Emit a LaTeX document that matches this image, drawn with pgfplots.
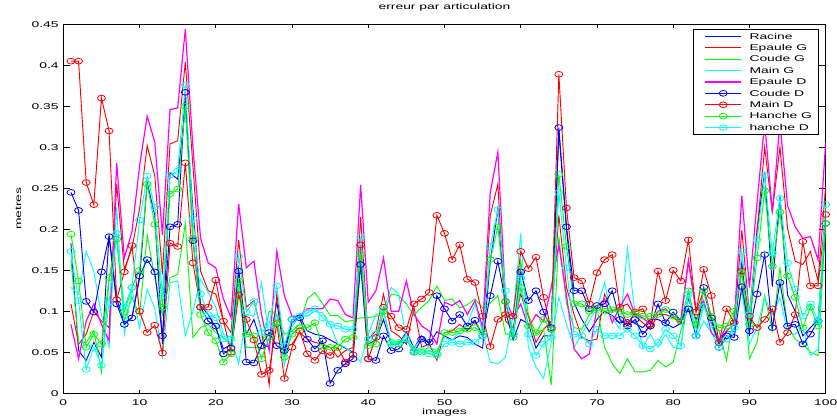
\documentclass[border=0pt]{standalone}
\usepackage{pgfplots}
\usepackage{pgfplotstable}
\pgfplotsset{compat=1.18}
\usepackage{fontspec}
\setmainfont{Liberation Sans}[FakeStretch=1.65]
\definecolor{mblue}{RGB}{0,0,255}
\definecolor{mred}{RGB}{255,0,0}
\definecolor{mgreen}{RGB}{0,255,0}
\definecolor{mcyan}{RGB}{0,255,255}
\definecolor{mmag}{RGB}{255,0,255}

\pgfplotstableread{
x R EG CG MG ED CD MD HG HD
1 .183 .109 .163 .129 .084 .245 .405 .194 .173
2 .052 .06 .062 .121 .042 .223 .405 .137 .113
3 .04 .072 .062 .173 .088 .112 .257 .056 .029
4 .062 .1 .076 .149 .109 .099 .23 .072 .056
5 .044 .088 .026 .096 .084 .148 .36 .06 .034
6 .193 .08 .137 .056 .064 .191 .32 .141 .111
7 .115 .255 .191 .227 .281 .109 .114 .188 .195
8 .086 .151 .088 .072 .165 .084 .148 .099 .105
9 .092 .177 .117 .127 .197 .092 .18 .129 .129
10 .14 .225 .096 .08 .277 .143 .10 .15 .211
11 .257 .302 .193 .127 .338 .163 .074 .255 .265
12 .217 .265 .141 .103 .306 .148 .083 .206 .227
13 .06 .145 .096 .044 .193 .07 .049 .105 .119
14 .269 .304 .141 .135 .346 .203 .183 .243 .266
15 .261 .308 .145 .137 .348 .206 .179 .249 .271
16 .35 .404 .207 .07 .444 .367 .281 .35 .376
17 .225 .277 .068 .1 .3 .186 .159 .189 .213
18 .107 .149 .08 .139 .189 .105 .105 .096 .121
19 .096 .125 .084 .123 .159 .088 .105 .074 .096
20 .08 .121 .074 .105 .153 .082 .138 .064 .092
21 .054 .088 .068 .072 .115 .048 .088 .038 .066
22 .06 .074 .058 .068 .092 .055 .05 .048 .066
23 .151 .187 .125 .036 .231 .149 .12 .137 .167
24 .072 .105 .056 .096 .153 .038 .09 .072 .099
25 .09 .113 .056 .094 .161 .037 .065 .07 .112
26 .06 .076 .056 .135 .096 .058 .023 .042 .074
27 .056 .01 .1 .068 .052 .074 .028 .068 .084
28 .112 .121 .096 .096 .173 .058 .085 .086 .131
29 .048 .056 .072 .034 .119 .052 .018 .044 .058
30 .086 .06 .076 .082 .094 .09 .056 .072 .09
31 .094 .074 .084 .094 .094 .092 .076 .08 .094
32 .076 .066 .115 .094 .103 .066 .048 .08 .098
33 .072 .062 .123 .1 .103 .054 .04 .086 .103
34 .07 .06 .109 .098 .103 .064 .052 .056 .092
35 .065 .056 .095 .084 .115 .012 .046 .056 .084
36 .06 .044 .095 .06 .113 .028 .056 .056 .082
37 .055 .052 .087 .056 .096 .036 .038 .066 .078
38 .05 .056 .089 .048 .092 .042 .047 .068 .078
39 .161 .215 .092 .038 .254 .157 .181 .169 .191
40 .06 .066 .092 .072 .111 .042 .042 .058 .066
41 .065 .076 .094 .096 .125 .04 .068 .06 .072
42 .09 .121 .096 .1 .165 .07 .105 .1 .103
43 .06 .076 .121 .129 .1 .052 .094 .062 .06
44 .06 .07 .119 .121 .1 .054 .08 .06 .062
45 .075 .06 .109 .064 .137 .066 .078 .066 .066
46 .055 .105 .095 .056 .096 .05 .109 .052 .05
47 .07 .056 .105 .066 .082 .066 .115 .05 .052
48 .06 .06 .113 .056 .076 .062 .123 .052 .048
49 .075 .04 .131 .052 .06 .119 .217 .048 .046
50 .07 .074 .113 .068 .111 .103 .195 .074 .06
51 .065 .076 .115 .064 .107 .088 .163 .074 .062
52 .07 .084 .104 .076 .113 .096 .181 .076 .06
53 .068 .076 .108 .084 .096 .082 .139 .078 .062
54 .06 .088 .115 .109 .113 .089 .135 .08 .062
55 .055 .07 .104 .074 .08 .07 .094 .074 .07
56 .16 .217 .11 .038 .245 .119 .057 .163 .179
57 .225 .255 .119 .036 .294 .161 .09 .203 .224
58 .1 .088 .072 .044 .115 .112 .096 .112 .125
59 .065 .08 .072 .096 .092 .072 .094 .068 .072
60 .09 .121 .161 .195 .109 .148 .173 .129 .14
61 .085 .094 .096 .056 .08 .113 .152 .082 .072
62 .055 .062 .072 .032 .096 .125 .166 .074 .046
63 .07 .078 .078 .018 .088 .099 .117 .09 .06
64 .07 .088 .01 .062 .129 .08 .078 .078 .068
65 .32 .217 .191 .117 .181 .324 .389 .267 .245
66 .2 .129 .109 .084 .119 .203 .226 .179 .153
67 .11 .096 .08 .056 .054 .125 .141 .109 .072
68 .09 .068 .078 .072 .042 .125 .137 .109 .07
69 .075 .064 .096 .088 .048 .103 .109 .1 .06
70 .09 .066 .104 .104 .105 .107 .147 .104 .078
71 .1 .121 .056 .135 .115 .109 .163 .1 .07
72 .095 .1 .036 .092 .086 .125 .169 .102 .07
73 .085 .105 .024 .078 .105 .09 .105 .1 .07
74 .09 .109 .042 .177 .121 .082 .084 .096 .078
75 .085 .094 .026 .096 .096 .09 .099 .098 .07
76 .08 .086 .026 .056 .092 .072 .103 .094 .058
77 .09 .078 .028 .072 .084 .082 .084 .094 .054
78 .09 .096 .04 .056 .1 .109 .149 .096 .062
79 .085 .096 .032 .072 .103 .086 .113 .102 .078
80 .08 .092 .038 .056 .094 .099 .15 .094 .07
81 .085 .086 .076 .054 .09 .088 .137 .088 .058
82 .115 .163 .105 .125 .161 .103 .187 .125 .121
83 .09 .1 .08 .068 .1 .07 .099 .084 .07
84 .11 .125 .109 .088 .113 .129 .151 .125 .106
85 .085 .088 .088 .074 .074 .092 .119 .094 .084
86 .06 .064 .076 .056 .064 .056 .062 .08 .056
87 .075 .076 .04 .066 .082 .07 .103 .082 .066
88 .075 .084 .1 .074 .086 .068 .086 .1 .08
89 .16 .199 .151 .125 .241 .13 .149 .147 .173
90 .07 .096 .042 .06 .129 .076 .094 .084 .096
91 .2 .197 .062 .08 .233 .121 .08 .165 .187
92 .27 .3 .119 .117 .33 .169 .09 .247 .266
93 .13 .221 .076 .096 .221 .08 .103 .155 .171
94 .24 .3 .153 .117 .33 .135 .062 .221 .238
95 .12 .201 .082 .074 .229 .082 .074 .143 .159
96 .1 .161 .066 .072 .203 .084 .096 .117 .127
97 .07 .157 .06 .08 .189 .06 .185 .08 .094
98 .08 .173 .05 .046 .191 .072 .131 .105 .109
99 .09 .137 .046 .054 .163 .088 .131 .082 .088
100 .2 .253 .209 .215 .306 .207 .218 .207 .23
}\data

\newcommand{\tf}{\fontsize{6.3}{7.5}\selectfont}

\begin{document}
\begin{tikzpicture}
\useasboundingbox (-47.5pt,-18.5pt) rectangle (580.3pt,294.95pt);
\begin{axis}[
  at={(0pt,0pt)}, anchor=south west,
  scale only axis, width=571.8pt, height=276.75pt,
  xmin=0, xmax=100, ymin=0, ymax=0.45,
  xtick={0,10,20,30,40,50,60,70,80,90,100},
  ytick={0,0.05,0.1,0.15,0.2,0.25,0.3,0.35,0.4,0.45},
  yticklabels={0,0.05,0.1,0.15,0.2,0.25,0.3,0.35,0.4,0.45},
  /pgf/number format/assume math mode=true,
  tick align=inside, xtick pos=both, ytick pos=both,
  major tick length=5pt,
  xtick style={/pgfplots/major tick length=2.5pt},
  tick style={black, line width=0.6pt},
  axis line style={black, line width=0.75pt},
  ticklabel style={font=\tf},
  xticklabel style={yshift=-1.2pt},
  title={erreur par articulation},
  title style={at={(axis description cs:0.5,1.0179)}, anchor=base, font=\tf, inner sep=0pt},
  xlabel={images},
  xlabel style={at={(axis description cs:0.5,-0.0569)}, anchor=base, font=\tf, inner sep=0pt},
  ylabel={metres},
  ylabel style={at={(axis description cs:-0.059,0.5)}, anchor=center, font=\tf, inner sep=0pt},
  legend style={at={(axis description cs:0.9912,0.9873)}, anchor=north east,
    draw=black, line width=0.6pt, fill=white, font=\tf,
    inner xsep=4pt, inner ysep=1.25pt, row sep=0.55pt,
    nodes={inner xsep=1pt, inner ysep=0.5pt, text height=5.5pt, text depth=1.5pt}},
  legend cell align=left,
  legend image code/.code={%
    \path (0pt,0pt) (36.5pt,0pt);
    \draw[mark repeat=2,mark phase=2,#1] plot coordinates {(4.75pt,0pt) (18.25pt,0pt) (31.75pt,0pt)};},
  every axis plot/.append style={line width=0.7pt},
  mark size=3pt,
]
\addplot[mblue, no markers] table[x=x,y=R] {\data};
\addlegendentry{Racine}
\addplot[mred, no markers] table[x=x,y=EG] {\data};
\addlegendentry{Epaule G}
\addplot[mgreen, no markers] table[x=x,y=CG] {\data};
\addlegendentry{Coude G}
\addplot[mcyan, no markers] table[x=x,y=MG] {\data};
\addlegendentry{Main G}
\addplot[mmag, no markers, line width=0.9pt] table[x=x,y=ED] {\data};
\addlegendentry{Epaule D}
\addplot[mblue, mark=o, mark options={solid, line width=0.6pt, yscale=0.72}] table[x=x,y=CD] {\data};
\addlegendentry{Coude D}
\addplot[mred, mark=o, mark options={solid, line width=0.6pt, yscale=0.72}] table[x=x,y=MD] {\data};
\addlegendentry{Main D}
\addplot[mgreen, mark=o, mark options={solid, line width=0.6pt, yscale=0.72}] table[x=x,y=HG] {\data};
\addlegendentry{Hanche G}
\addplot[mcyan, mark=o, mark options={solid, line width=0.6pt, yscale=0.72}] table[x=x,y=HD] {\data};
\addlegendentry{hanche D}
\end{axis}
\end{tikzpicture}
\end{document}
